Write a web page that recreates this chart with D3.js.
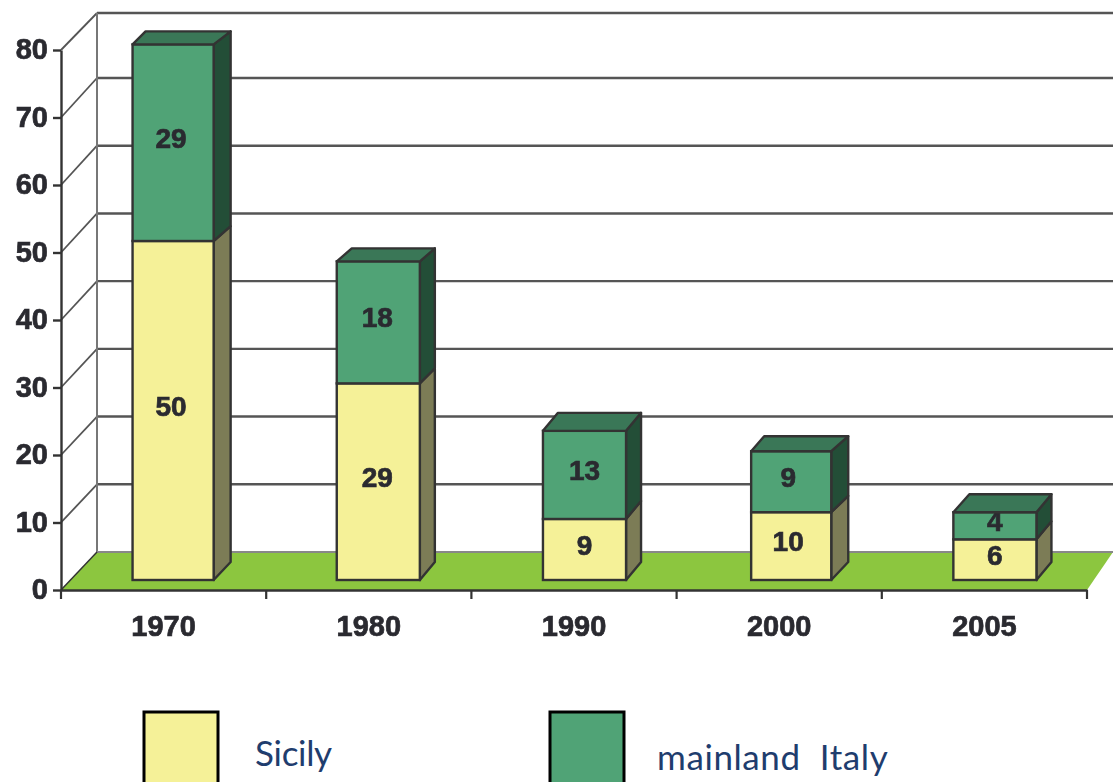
<!DOCTYPE html>
<html>
<head>
<meta charset="utf-8">
<script src="https://cdnjs.cloudflare.com/ajax/libs/d3/7.8.5/d3.min.js"></script>
<style>
  html, body { margin: 0; padding: 0; background: #fff; overflow: hidden; }
  svg { display: block; }
  .chart { filter: blur(0.6px); }
  .chart text { font-family: "Liberation Sans", Arial, sans-serif; font-weight: bold; fill: #2a2a30; stroke: #2a2a30; stroke-width: 0.7px; }
  .legend text { font-family: Lato, "Open Sans", sans-serif; font-size: 35px; fill: #1f3d6e; }
</style>
</head>
<body>
<svg></svg>
<script>
const w = 1113
const h = 782

// data
const years = ['1970', '1980', '1990', '2000', '2005'];
const sicily = [50, 29, 9, 10, 6];
const mainland = [29, 18, 13, 9, 4];
const yTicks = [0, 10, 20, 30, 40, 50, 60, 70, 80];
const seriesNames = ['Sicily', 'mainland  Italy'];

// colours: front, side, top
const yellow = { front: '#f5f198', side: '#7c7c56' };
const green = { front: '#50a376', side: '#234e37', top: '#3a7757' };
const line = '#333';

const svg = d3.select('svg')
  .attr('width', w)
  .attr('height', h);

const g = svg.append('g').attr('class', 'chart');

// 3d box layout
const wall = { dx: 36, rightDx: 26 };
const barLift = 10; // bars stand a bit behind the front edge of the floor
const barShift = 10;
const baseDepth = 18;
const topDepth = [13, 13, 18, 15, 18];  // the box tops are not even in the picture
const sideDx = [17, 15, 15, 17, 15];
const topLeftDx = [13, 15, 15, 13, 16];
const edgeNudge = [[0, -1], [-1, 0], [0, 1], [3, 1], [0, 1]];
const labelDx = [-2, -1, 0, -3, 0];

const x = d3.scaleBand()
  .domain(years)
  .range([61, 1087])
  .paddingInner(0.6)
  .paddingOuter(0.3);

const y = d3.scaleLinear()
  .domain([0, 80])
  .range([590, 50]);

// back wall steps, the top one is a little short in the picture
const backY = d3.scaleLinear()
  .domain([0, 70, 80])
  .range([552, 78, 13]);

// the boxes are drawn a touch taller than the axis steps
const yBar = d3.scaleLinear()
  .domain([0, 80])
  .range([y(0) - barLift, y(0) - barLift - 80 * 6.78]);

const [axisL, axisR] = x.range();
const backR = axisR + wall.rightDx;

// back wall and side wall
const grid = g.append('g');
grid.selectAll('.h-grid').data(yTicks.slice(1))
  .enter().append('line')
  .attr('class', 'h-grid')
  .attr('x1', axisL + wall.dx).attr('x2', w)
  .attr('y1', backY).attr('y2', backY)
  .attr('stroke', '#555').attr('stroke-width', 2.4);
grid.selectAll('.diag').data(yTicks.slice(1))
  .enter().append('line')
  .attr('class', 'diag')
  .attr('x1', axisL).attr('y1', y)
  .attr('x2', axisL + wall.dx).attr('y2', backY)
  .attr('stroke', '#555').attr('stroke-width', 1.8);
grid.append('line')
  .attr('x1', axisL + wall.dx).attr('x2', axisL + wall.dx)
  .attr('y1', backY(80)).attr('y2', backY(0))
  .attr('stroke', '#777').attr('stroke-width', 2);

// floor
g.append('path')
  .attr('d', d3.line()([
    [axisL, y(0)], [axisR, y(0)],
    [backR, backY(0)], [axisL + wall.dx, backY(0)]
  ]) + 'Z')
  .attr('fill', '#8cc63f');
g.append('line')
  .attr('x1', axisL + wall.dx).attr('x2', w)
  .attr('y1', backY(0)).attr('y2', backY(0))
  .attr('stroke', '#888').attr('stroke-width', 2);
g.append('path')
  .attr('d', d3.line()([[axisL, y(0)], [axisL + wall.dx, backY(0)]]))
  .attr('stroke', '#333').attr('stroke-width', 1.5);

// axes
const yAxis = d3.axisLeft(y)
  .tickValues(yTicks)
  .tickSize(8)
  .tickPadding(5)
  .tickSizeOuter(0);
const yAxisG = g.append('g')
  .attr('transform', `translate(${axisL}, 0)`)
  .call(yAxis);
yAxisG.selectAll('text').attr('font-size', '29px').attr('dy', '0.3em');
yAxisG.selectAll('line').attr('stroke', '#333').attr('stroke-width', 2.4);
yAxisG.select('.domain').attr('stroke', '#333').attr('stroke-width', 2.4);

const xAxis = d3.axisBottom(x)
  .tickSize(0)
  .tickPadding(25);
const xAxisG = g.append('g')
  .attr('transform', `translate(0, ${y(0)})`)
  .call(xAxis);
xAxisG.selectAll('text').attr('font-size', '29px');
xAxisG.select('.domain').attr('stroke', '#333').attr('stroke-width', 2.4);
xAxisG.selectAll('.boundary').data(d3.range(years.length + 1))
  .enter().append('line')
  .attr('class', 'boundary')
  .attr('x1', i => axisL + i * x.step()).attr('x2', i => axisL + i * x.step())
  .attr('y1', 0).attr('y2', 9)
  .attr('stroke', '#333').attr('stroke-width', 2.2);

// stacked boxes
const bars = g.selectAll('.bar').data(years)
  .enter().append('g')
  .attr('class', 'bar');

bars.each(function (year, i) {
  const bar = d3.select(this);
  const total = sicily[i] + mainland[i];
  const x0 = x(year) + barShift + edgeNudge[i][0];
  const x1 = x(year) + barShift + x.bandwidth() + edgeNudge[i][1];
  const depth = d3.scaleLinear().domain([0, total]).range([baseDepth, topDepth[i]]);

  const segment = (from, to, col) => {
    bar.append('path') // side
      .attr('d', d3.line()([
        [x1, yBar(to)], [x1 + sideDx[i], yBar(to) - depth(to)],
        [x1 + sideDx[i], yBar(from) - depth(from)], [x1, yBar(from)]
      ]) + 'Z')
      .attr('fill', col.side)
      .attr('stroke', line).attr('stroke-width', 2.4).attr('stroke-linejoin', 'round');
    bar.append('rect') // front
      .attr('x', x0).attr('y', yBar(to))
      .attr('width', x1 - x0).attr('height', yBar(from) - yBar(to))
      .attr('fill', col.front)
      .attr('stroke', line).attr('stroke-width', 2.4);
    bar.append('text')
      .attr('x', (x0 + x1) / 2 + labelDx[i])
      .attr('y', (yBar(from) + yBar(to)) / 2 - 5)
      .attr('dy', '0.36em')
      .attr('text-anchor', 'middle')
      .attr('font-size', '28px')
      .text(to - from);
  };

  segment(0, sicily[i], yellow);
  segment(sicily[i], total, green);

  bar.append('path') // lid
    .attr('d', d3.line()([
      [x0, yBar(total)], [x0 + topLeftDx[i], yBar(total) - topDepth[i]],
      [x1 + sideDx[i], yBar(total) - topDepth[i]], [x1, yBar(total)]
    ]) + 'Z')
    .attr('fill', green.top)
    .attr('stroke', line).attr('stroke-width', 2.4).attr('stroke-linejoin', 'round');
});

// legend, runs off the bottom of the picture like the original
const legend = svg.append('g').attr('class', 'legend');
const legendX = [144, 550];
const legendTextX = [255, 657];
const legendBase = [766, 770];
const legendSpacing = [-0.3, 0.6];
[yellow, green].forEach((col, i) => {
  legend.append('rect')
    .attr('x', legendX[i]).attr('y', 712)
    .attr('width', 74).attr('height', 90)
    .attr('fill', col.front)
    .attr('stroke', '#000').attr('stroke-width', 3);
  legend.append('text')
    .attr('x', legendTextX[i]).attr('y', legendBase[i])
    .style('white-space', 'pre')
    .style('letter-spacing', legendSpacing[i] + 'px')
    .text(seriesNames[i]);
});
</script>
</body>
</html>
